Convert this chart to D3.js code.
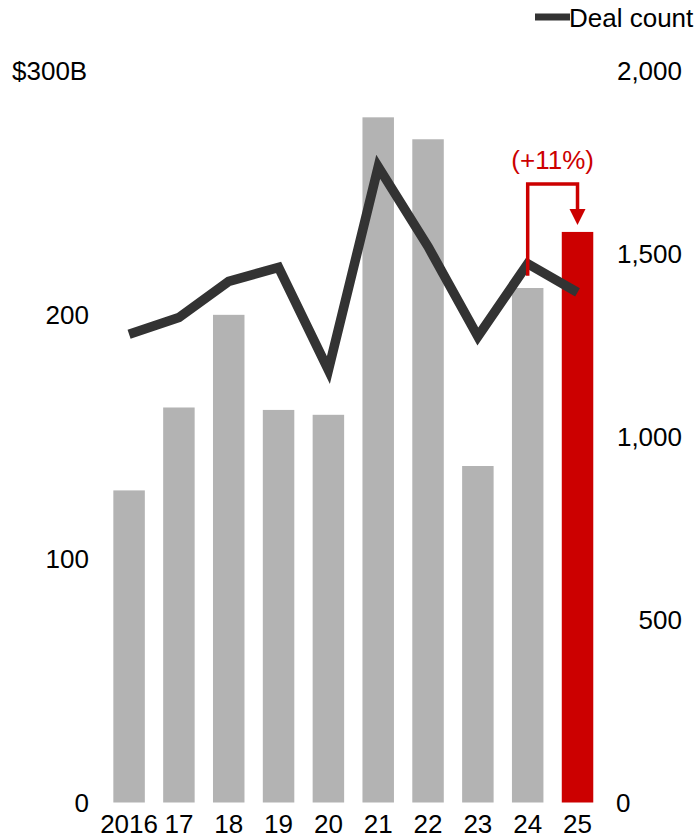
<!DOCTYPE html>
<html>
<head>
<meta charset="utf-8">
<script src="https://cdn.jsdelivr.net/npm/d3@7/dist/d3.min.js"></script>
<style>
  html, body { margin: 0; padding: 0; background: #fff; }
  svg { display: block; font-family: "Liberation Sans", Arial, Helvetica, sans-serif; }
</style>
</head>
<body>
<svg id="chart" width="700" height="836"></svg>
<script>
// Deal value ($B, left axis) and deal count (right axis) by year
const years = ["2016", "17", "18", "19", "20", "21", "22", "23", "24", "25"];
const dealValue = [128, 162, 200, 161, 159, 281, 272, 138, 211, 234];
const dealCount = [1280, 1326, 1425, 1463, 1182, 1738, 1520, 1274, 1473, 1395];
const valueTicks = [0, 100, 200, 300];
const countTicks = [0, 500, 1000, 1500, 2000];
const changeLabel = "(+11%)";
const legendLabel = "Deal count";

const GREY = "#b3b3b3";
const RED = "#cc0000";
const LINE = "#333333";
const FONT = 26;

const svg = d3.select("#chart");

const x = d3.scaleBand().domain(years).range([95, 611.6]).padding(0.368);
const yVal = d3.scaleLinear().domain([0, 300]).range([802.5, 71]);
const yCnt = d3.scaleLinear().domain([0, 2000]).range([802.5, 71]);

// bars
svg.append("g").selectAll("rect")
  .data(years)
  .join("rect")
  .attr("x", d => x(d))
  .attr("width", x.bandwidth())
  .attr("y", (d, i) => yVal(dealValue[i]))
  .attr("height", (d, i) => yVal(0) - yVal(dealValue[i]))
  .attr("fill", (d, i) => i === years.length - 1 ? RED : GREY);

// deal count line
const line = d3.line()
  .x((d, i) => x(years[i]) + x.bandwidth() / 2)
  .y(d => yCnt(d));
svg.append("path")
  .datum(dealCount)
  .attr("d", line)
  .attr("fill", "none")
  .attr("stroke", LINE)
  .attr("stroke-width", 9.5)
  .attr("stroke-linejoin", "miter")
  .attr("stroke-miterlimit", 10);

// left axis labels
const leftAxis = svg.append("g");
leftAxis.selectAll("text")
  .data(valueTicks)
  .join("text")
  .attr("x", d => d === 300 ? 12 : 89)
  .attr("y", d => yVal(d))
  .attr("dy", "0.36em")
  .attr("text-anchor", d => d === 300 ? "start" : "end")
  .attr("font-size", FONT)
  .attr("fill", "#000")
  .text(d => d === 300 ? "$300B" : d3.format(",")(d));

// right axis labels
const rightAxis = svg.append("g");
rightAxis.selectAll("text")
  .data(countTicks)
  .join("text")
  .attr("x", d => d === 0 ? 616 : 682)
  .attr("y", d => yCnt(d))
  .attr("dy", "0.36em")
  .attr("text-anchor", d => d === 0 ? "start" : "end")
  .attr("font-size", FONT)
  .attr("fill", "#000")
  .text(d => d3.format(",")(d));

// category labels
svg.append("g").selectAll("text")
  .data(years)
  .join("text")
  .attr("x", d => x(d) + x.bandwidth() / 2)
  .attr("y", 833)
  .attr("text-anchor", "middle")
  .attr("font-size", FONT)
  .attr("fill", "#000")
  .text(d => d);

// growth bracket from 2024 to 2025
const n = years.length;
const xA = x(years[n - 2]) + x.bandwidth() / 2;
const xB = x(years[n - 1]) + x.bandwidth() / 2;
const topY = 184;
const tipY = yVal(dealValue[n - 1]) - 7;
const headH = 16, headW = 8;
svg.append("path")
  .attr("d", `M${xA},${yCnt(dealCount[n - 2]) + 12}V${topY}H${xB}V${tipY - headH}`)
  .attr("fill", "none")
  .attr("stroke", RED)
  .attr("stroke-width", 3.5);
svg.append("path")
  .attr("d", `M${xB - headW},${tipY - headH}L${xB + headW},${tipY - headH}L${xB},${tipY}Z`)
  .attr("fill", RED);
svg.append("text")
  .attr("x", (xA + xB) / 2)
  .attr("y", 169)
  .attr("text-anchor", "middle")
  .attr("font-size", FONT)
  .attr("fill", RED)
  .text(changeLabel);

// legend
svg.append("line")
  .attr("x1", 535).attr("x2", 570)
  .attr("y1", 17).attr("y2", 17)
  .attr("stroke", LINE)
  .attr("stroke-width", 7);
svg.append("text")
  .attr("x", 569)
  .attr("y", 27)
  .attr("font-size", FONT)
  .attr("fill", "#000")
  .text(legendLabel);
</script>
</body>
</html>
